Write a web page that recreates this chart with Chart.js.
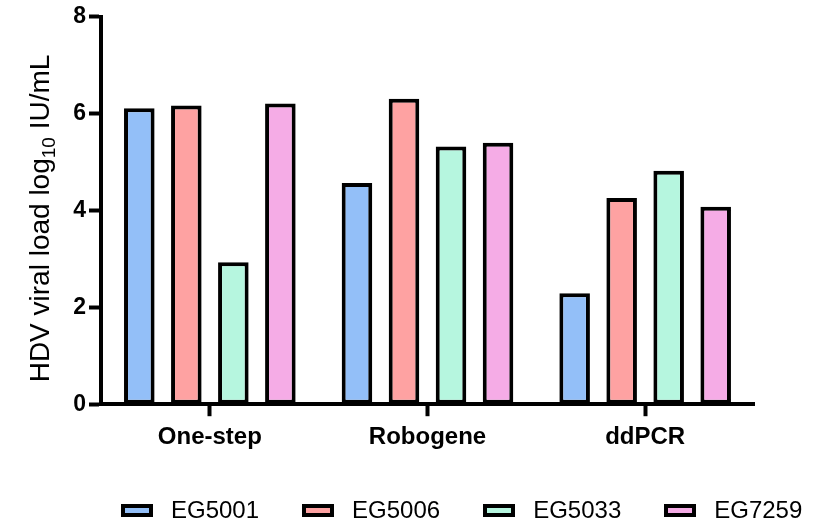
<!DOCTYPE html>
<html><head><meta charset="utf-8">
<script src="https://cdn.jsdelivr.net/npm/chart.js@4/dist/chart.umd.min.js"></script>
<style>
html,body{margin:0;padding:0;background:#fff;}
#wrap{position:relative;width:838px;height:527px;}
#legend{position:absolute;left:121px;top:496px;height:28px;display:flex;align-items:center;font-family:'Liberation Sans',Arial,sans-serif;font-size:24px;color:#000;}
.item{display:flex;align-items:center;margin-right:43px;}
.box{width:24px;height:5px;border:4px solid #000;margin-right:18px;}
</style></head>
<body><div id="wrap"><canvas id="c" width="838" height="527"></canvas><div id="legend"></div></div>
<script>
// ---- data ----
const categories = ['One-step', 'Robogene', 'ddPCR'];
const seriesNames = ['EG5001', 'EG5006', 'EG5033', 'EG7259'];
const EG5001 = [6.11, 4.57, 2.29];
const EG5006 = [6.17, 6.31, 4.26];
const EG5033 = [2.93, 5.32, 4.82];
const EG7259 = [6.21, 5.40, 4.08];
const yTicks = [0, 2, 4, 6, 8];
const titleMain = 'HDV viral load log';
const titleSub = '10';
const titleEnd = ' IU/mL';

// ---- styles ----
const fills = ['#93BFF8', '#FEA2A2', '#B6F6DF', '#F5ACE6'];
const FONT = "'Liberation Sans', Arial, sans-serif";
const seriesValues = [EG5001, EG5006, EG5033, EG7259];

const datasets = seriesNames.map((name, i) => ({
  label: name,
  data: seriesValues[i],
  backgroundColor: fills[i],
  borderColor: '#000',
  borderWidth: 4,
  borderSkipped: false,
  barPercentage: 0.65,
  categoryPercentage: 0.864
}));

const yTitlePlugin = {
  id: 'yTitle',
  afterDraw(chart) {
    const ctx = chart.ctx;
    const a = chart.chartArea;
    ctx.save();
    ctx.fillStyle = '#000';
    ctx.textBaseline = 'alphabetic';
    ctx.font = '28px ' + FONT;
    const w1 = ctx.measureText(titleMain).width;
    const w3 = ctx.measureText(titleEnd).width;
    ctx.font = '19px ' + FONT;
    const w2 = ctx.measureText(titleSub).width;
    const total = w1 + w2 + w3;
    ctx.translate(a.left - 62, (a.top + a.bottom) / 2 + 8);
    ctx.rotate(-Math.PI / 2);
    let x = -total / 2;
    const base = 10;
    ctx.font = '28px ' + FONT;
    ctx.fillText(titleMain, x, base); x += w1;
    ctx.font = '19px ' + FONT;
    ctx.fillText(titleSub, x, base + 6); x += w2;
    ctx.font = '28px ' + FONT;
    ctx.fillText(titleEnd, x, base);
    ctx.restore();
  }
};

const chart = new Chart(document.getElementById('c'), {
  type: 'bar',
  data: { labels: categories, datasets },
  options: {
    responsive: false,
    devicePixelRatio: 1,
    animation: false,
    layout: { padding: { left: 0, top: 16, right: 84, bottom: 68 } },
    plugins: { legend: { display: false }, tooltip: { enabled: false } },
    scales: {
      x: {
        offset: true,
        grid: { offset: false, drawOnChartArea: false, drawTicks: true, tickLength: 12, tickWidth: 4, color: '#000' },
        border: { display: true, color: '#000', width: 4 },
        ticks: { color: '#000', padding: 7, font: { family: FONT, size: 24, weight: 'bold' } }
      },
      y: {
        min: yTicks[0],
        max: yTicks[yTicks.length - 1],
        afterBuildTicks: s => { s.ticks = yTicks.map(v => ({ value: v })); },
        afterFit: s => { s.width = 101; },
        grid: { drawOnChartArea: false, drawTicks: true, tickLength: 12, tickWidth: 4, color: '#000' },
        border: { display: true, color: '#000', width: 4 },
        ticks: { color: '#000', padding: 3, font: { family: FONT, size: 23, weight: 'bold' } }
      }
    }
  },
  plugins: [yTitlePlugin]
});

// HTML legend built from the chart datasets
const lg = document.getElementById('legend');
chart.data.datasets.forEach(ds => {
  const it = document.createElement('div'); it.className = 'item';
  const b = document.createElement('div'); b.className = 'box'; b.style.background = ds.backgroundColor;
  const t = document.createElement('span'); t.textContent = ds.label;
  it.appendChild(b); it.appendChild(t); lg.appendChild(it);
});
</script>
</body></html>
